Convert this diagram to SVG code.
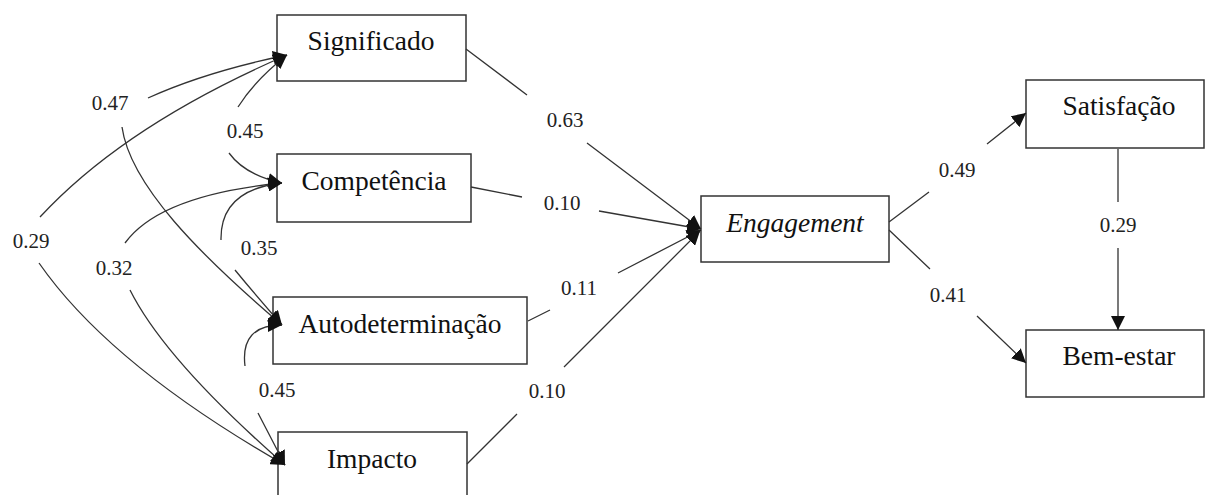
<svg xmlns="http://www.w3.org/2000/svg" width="1205" height="495" viewBox="0 0 1205 495">
<defs>
<marker id="ah" markerUnits="userSpaceOnUse" markerWidth="14" markerHeight="14" viewBox="0 0 14 14" refX="14" refY="7" orient="auto-start-reverse"><path d="M0,0 L14,7 L0,14 z" fill="#111"/></marker>
</defs>
<style>
.box{fill:#fff;stroke:#333;stroke-width:1.5}
.lbl{font-family:"Liberation Serif","Times New Roman",serif;font-size:27.5px;fill:#111;text-anchor:middle}
.num{font-family:"Liberation Serif","Times New Roman",serif;font-size:21px;fill:#222;text-anchor:middle}
.c{fill:none;stroke:#333;stroke-width:1.3;marker-end:url(#ah)}
.d{fill:none;stroke:#333;stroke-width:1.3;marker-start:url(#ah);marker-end:url(#ah)}
</style>
<rect width="1205" height="495" fill="#fff"/>
<g id="n-significado"><rect class="box" x="277" y="15" width="189" height="66"/><text class="lbl" x="371" y="50">Significado</text></g>
<g id="n-competencia"><rect class="box" x="277" y="154" width="194" height="68"/><text class="lbl" x="374" y="190">Competência</text></g>
<g id="n-autodeterminacao"><rect class="box" x="273" y="297" width="254" height="67"/><text class="lbl" x="400" y="333">Autodeterminação</text></g>
<g id="n-impacto"><rect class="box" x="278" y="432" width="189" height="70"/><text class="lbl" x="372" y="468">Impacto</text></g>
<g id="n-engagement"><rect class="box" x="701" y="196" width="188" height="66"/><text class="lbl" x="795" y="232" font-style="italic">Engagement</text></g>
<g id="n-satisfacao"><rect class="box" x="1026" y="80" width="178" height="68"/><text class="lbl" x="1119" y="115">Satisfação</text></g>
<g id="n-bemestar"><rect class="box" x="1026" y="330" width="178" height="67"/><text class="lbl" x="1119" y="365">Bem-estar</text></g>
<g id="connectors">
<path class="c" d="M466,49 L527,95 M587,143 L701,229"/>
<path class="c" d="M471,187 L522,197 M599,211 L701,229"/>
<path class="c" d="M528,321 L550,310 M618,273 L701,230"/>
<path class="c" d="M467,464 L517,414 M564,367 L700,231"/>
<path class="c" d="M889,222 L929,192 M987,144 L1026,113"/>
<path class="c" d="M889,230 L930,269 M977,316 L1026,363"/>
<path class="c" d="M1118,149 L1118,202 M1118,248 L1118,330"/>
<path class="d" d="M287,55 Q125,125 40,217 M39,263 Q110,365 285,465"/>
<path class="d" d="M287,55 Q205,72 148,98 M122,127 C130,185 200,255 282,325"/>
<path class="d" d="M287,55 Q255,80 238,107 M229,153 Q245,175 282,183"/>
<path class="d" d="M282,183 Q160,195 125,243 M130,290 Q165,360 285,465"/>
<path class="d" d="M282,183 Q220,190 221,240 M235,270 Q258,298 282,325"/>
<path class="d" d="M282,325 Q240,325 245,366 M258,413 L285,465"/>
</g>
<g id="labels">
<text class="num" x="565" y="127">0.63</text>
<text class="num" x="562" y="210">0.10</text>
<text class="num" x="579" y="295">0.11</text>
<text class="num" x="547" y="398">0.10</text>
<text class="num" x="957" y="177">0.49</text>
<text class="num" x="948" y="302">0.41</text>
<text class="num" x="1118" y="232">0.29</text>
<text class="num" x="110" y="110">0.47</text>
<text class="num" x="245" y="138">0.45</text>
<text class="num" x="31" y="248">0.29</text>
<text class="num" x="259" y="255">0.35</text>
<text class="num" x="114" y="275">0.32</text>
<text class="num" x="277" y="397">0.45</text>
</g>
</svg>
